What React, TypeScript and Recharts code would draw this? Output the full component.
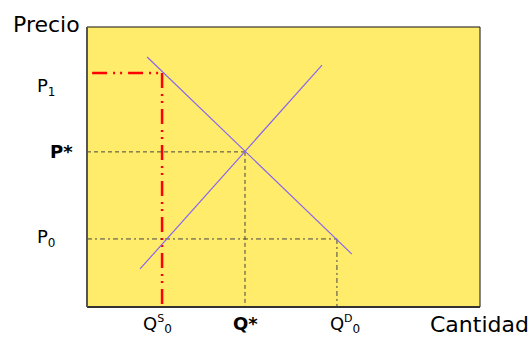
import { LineChart, Line, XAxis, YAxis, ReferenceLine, ReferenceArea } from 'recharts';

// equilibrium levels (plot spans 0..100 on both axes)
const priceLevels = [83.6, 55.4, 24.3];
const priceLabels = ['P1', 'P*', 'P0'];
const quantityLevels = [19.1, 40.2, 63.6];
const quantityLabels = ['QS0', 'Q*', 'QD0'];

const demandX = [15.3, 67.4];
const demandY = [89.3, 18.9];
const supplyX = [13.5, 59.8];
const supplyY = [13.6, 86.4];

const demandData = demandX.map((x, i) => ({ x, y: demandY[i] }));
const supplyData = supplyX.map((x, i) => ({ x, y: supplyY[i] }));

const [p1, pStar, p0] = priceLevels;
const [qs0, qStar, qd0] = quantityLevels;

const FONT = '"DejaVu Sans", sans-serif';
const GUIDE = '#444';

function PriceTick({ x, y, index }: any) {
  const label = priceLabels[index];
  if (label === 'P*') {
    return (
      <text x={x - 37} y={y + 6} fontFamily={FONT} fontSize={18} fontWeight="bold" fill="#000">
        P*
      </text>
    );
  }
  const dy = label === 'P1' ? 19 : 4;
  return (
    <text x={x - 50} y={y + dy} fontFamily={FONT} fontSize={18} fill="#000">
      P<tspan fontSize={12} dy={4}>{label.slice(1)}</tspan>
    </text>
  );
}

function QuantityTick({ x, y, index }: any) {
  const label = quantityLabels[index];
  if (label === 'Q*') {
    return (
      <text x={x - 12} y={y + 23} fontFamily={FONT} fontSize={18} fontWeight="bold" fill="#000">
        Q*
      </text>
    );
  }
  const dx = label === 'QS0' ? -19 : -7;
  return (
    <text x={x + dx} y={y + 23} fontFamily={FONT} fontSize={18} fill="#000">
      Q<tspan fontSize={11} dy={-8}>{label[1]}</tspan>
      <tspan fontSize={12} dy={11}>{label[2]}</tspan>
    </text>
  );
}

export default function App() {
  return (
    <div style={{ position: 'absolute', left: 0, top: 0, background: '#fff' }}>
      <LineChart width={528} height={338} margin={{ top: 27, right: 48, bottom: 0, left: 0 }}>
        <ReferenceArea x1={0} x2={100} y1={0} y2={100} fill="#FFEC6A" fillOpacity={1} stroke="#111" strokeWidth={1} />
        <XAxis
          type="number"
          dataKey="x"
          domain={[0, 100]}
          allowDataOverflow
          ticks={quantityLevels}
          tick={<QuantityTick />}
          tickLine={false}
          tickSize={0}
          tickMargin={0}
          height={31}
          axisLine={{ stroke: '#333', strokeWidth: 2 }}
        />
        <YAxis
          type="number"
          dataKey="y"
          domain={[0, 100]}
          allowDataOverflow
          ticks={priceLevels}
          tick={<PriceTick />}
          tickLine={false}
          tickSize={0}
          tickMargin={0}
          width={87}
          axisLine={{ stroke: '#555', strokeWidth: 2 }}
        />

        {/* P1 / Qs0 */}
        <ReferenceLine segment={[{ x: 1.3, y: p1 }, { x: qs0, y: p1 }]} stroke="#FF0000" strokeWidth={2.5} strokeDasharray="15 6 2 5 2 6" />
        <ReferenceLine segment={[{ x: qs0, y: p1 }, { x: qs0, y: 0 }]} stroke="#FF0000" strokeWidth={2.5} strokeDasharray="15 6 2 5 2 6" />
        {/* P* / Q* */}
        <ReferenceLine segment={[{ x: 0, y: pStar }, { x: qStar, y: pStar }]} stroke={GUIDE} strokeWidth={1} strokeDasharray="4 3" />
        <ReferenceLine segment={[{ x: qStar, y: pStar }, { x: qStar, y: 0 }]} stroke={GUIDE} strokeWidth={1} strokeDasharray="4 3" />
        {/* P0 / Qd0 */}
        <ReferenceLine segment={[{ x: 0, y: p0 }, { x: qd0, y: p0 }]} stroke={GUIDE} strokeWidth={1} strokeDasharray="5 3 2 3" />
        <ReferenceLine segment={[{ x: qd0, y: p0 }, { x: qd0, y: 0 }]} stroke={GUIDE} strokeWidth={1} strokeDasharray="5 3 2 3" />

        <Line data={demandData} dataKey="y" type="linear" stroke="#8866F0" strokeWidth={1.2} dot={false} isAnimationActive={false} />
        <Line data={supplyData} dataKey="y" type="linear" stroke="#8866F0" strokeWidth={1.2} dot={false} isAnimationActive={false} />

        <text x={13} y={32} fontFamily={FONT} fontSize={22} fill="#000">Precio</text>
        <text x={430} y={332} fontFamily={FONT} fontSize={22} fill="#000">Cantidad</text>
        <text x={392} y={63} fontFamily={FONT} fontSize={21} fontWeight="bold" fill="#000">SS</text>
        <text x={362} y={252} fontFamily={FONT} fontSize={21} fontWeight="bold" fill="#000">DD</text>
      </LineChart>
    </div>
  );
}
